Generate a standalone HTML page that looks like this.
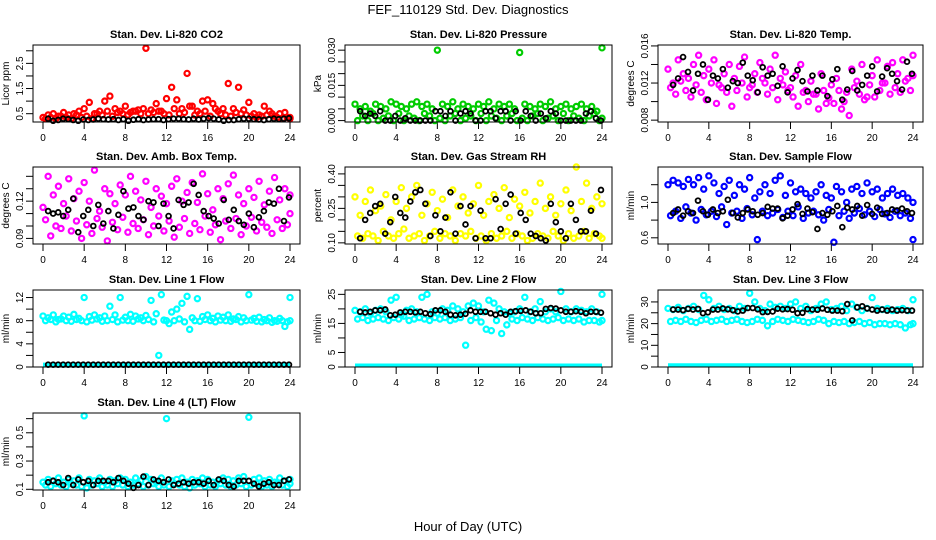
<!DOCTYPE html>
<html><head><meta charset="utf-8"><style>
body{margin:0;background:#fff;}
svg{display:block;font-family:"Liberation Sans",Arial,sans-serif;}
</style></head><body>
<svg id="chart" width="936" height="540" viewBox="0 0 936 540">
<rect width="936" height="540" fill="#fff"/>
<text x="468" y="14" text-anchor="middle" font-size="13">FEF_110129  Std. Dev. Diagnostics</text>
<text x="468" y="531" text-anchor="middle" font-size="13">Hour of Day (UTC)</text>
</svg>
<script>
const xTicks=[0,4,8,12,16,20,24];
const titles=["Stan. Dev. Li-820 CO2","Stan. Dev. Li-820 Pressure","Stan. Dev. Li-820 Temp.","Stan. Dev. Amb. Box Temp.","Stan. Dev. Gas Stream RH","Stan. Dev. Sample Flow","Stan. Dev. Line 1 Flow","Stan. Dev. Line 2 Flow","Stan. Dev. Line 3 Flow","Stan. Dev. Line 4 (LT) Flow"];
const yTitles=["Licor ppm","kPa","degrees C","degrees C","percent","ml/min","ml/min","ml/min","ml/min","ml/min"];
const yTicks=[[0.5,1,1.5,2,2.5,3],[0,0.005,0.01,0.015,0.02,0.025,0.03],[0.008,0.01,0.012,0.014,0.016],[0.09,0.1,0.11,0.12,0.13,0.14],[0.1,0.15,0.2,0.25,0.3,0.35,0.4],[0.6,0.8,1.0,1.2],[0,2,4,6,8,10,12],[0,5,10,15,20,25],[0,5,10,15,20,25,30],[0.1,0.2,0.3,0.4,0.5,0.6]];
const yLabels=[["0.5","","1.5","","2.5",""],["0.000","","","0.015","","","0.030"],["0.008","","0.012","","0.016"],["0.09","","","0.12","",""],["0.10","","","0.25","","","0.40"],["0.6","","1.0",""],["0","","4","","8","","12"],["0","5","","15","","25"],["0","","10","","20","","30"],["0.1","","0.3","","0.5",""]];
const yRanges=[[0.17,3.23],[-0.0006,0.0322],[0.0078,0.0161],[0.0855,0.1475],[0.095,0.43],[0.53,1.4],[0,13.3],[0,26.5],[0,35.5],[0.095,0.64]];
const colors=["#ff0000","#00cc00","#ff00ff","#ff00ff","#ffff00","#0000ff","#00ffff","#00ffff","#00ffff","#00ffff"];
const seriesA=[
[0.35,0.45,0.5,0.4,0.55,0.45,0.5,0.6,0.7,0.95,0.5,0.6,1.0,1.2,0.7,0.6,0.8,0.55,0.6,0.5,3.1,0.65,0.9,0.6,1.1,1.55,1.05,0.7,2.1,0.8,0.6,1.0,1.05,0.9,0.6,0.7,1.7,0.7,1.55,0.65,0.95,0.5,0.45,0.8,0.6,0.4,0.5,0.55,0.35],
[0.007,0.005,0.006,0.004,0.007,0.006,0.005,0.008,0.007,0.006,0.005,0.007,0.008,0.006,0.007,0.005,0.030,0.007,0.006,0.008,0.005,0.007,0.006,0.005,0.007,0.006,0.008,0.005,0.007,0.006,0.007,0.005,0.029,0.007,0.006,0.005,0.007,0.006,0.008,0.005,0.006,0.007,0.005,0.006,0.007,0.005,0.006,0.004,0.031],
[0.0135,0.012,0.0145,0.013,0.0125,0.014,0.015,0.0128,0.0135,0.0145,0.0118,0.013,0.014,0.0125,0.0138,0.0148,0.0115,0.013,0.0142,0.012,0.0135,0.015,0.0125,0.0132,0.0115,0.0128,0.014,0.0112,0.0122,0.0108,0.013,0.0098,0.0118,0.0125,0.0092,0.011,0.0135,0.0122,0.014,0.0105,0.0128,0.0145,0.012,0.0138,0.0142,0.013,0.0145,0.0125,0.015],
[0.115,0.14,0.125,0.132,0.118,0.138,0.122,0.128,0.135,0.12,0.145,0.112,0.13,0.126,0.118,0.133,0.125,0.14,0.128,0.121,0.136,0.115,0.13,0.124,0.118,0.132,0.138,0.12,0.127,0.135,0.119,0.142,0.126,0.113,0.13,0.122,0.134,0.141,0.125,0.118,0.13,0.123,0.136,0.117,0.128,0.139,0.121,0.13,0.125],
[0.30,0.22,0.28,0.33,0.24,0.26,0.31,0.20,0.28,0.34,0.25,0.30,0.35,0.22,0.27,0.32,0.24,0.29,0.21,0.33,0.26,0.30,0.23,0.27,0.35,0.22,0.28,0.31,0.25,0.34,0.21,0.29,0.26,0.32,0.23,0.28,0.36,0.25,0.30,0.22,0.27,0.33,0.24,0.43,0.28,0.36,0.25,0.30,0.27],
[1.2,1.25,1.22,1.18,1.26,1.2,1.28,1.15,1.3,1.22,1.1,1.18,1.25,1.08,1.2,1.15,1.28,1.05,1.12,1.2,1.1,1.25,1.3,1.08,1.22,1.12,1.15,1.1,1.05,1.12,1.2,1.08,1.05,1.18,1.12,1.0,1.15,1.18,1.1,1.22,1.12,1.15,1.05,1.1,1.15,1.08,1.1,1.05,1.0],
[8.8,8.5,9.0,8.2,8.8,8.6,9.1,8.4,12.0,8.7,9.0,8.5,8.8,10.5,9.0,12.0,8.6,9.1,8.8,8.5,8.9,11.5,9.2,12.5,8.0,9.5,10.0,11.0,12.2,8.5,11.8,8.7,9.0,8.4,8.8,8.6,9.0,8.3,8.7,8.5,12.5,8.4,8.6,8.2,8.5,8.0,8.4,7.0,12.0],
[19.5,19,20,18.5,19.5,20,19,23,24,18,19.5,20,19,24,25,19,18.5,20,19.5,21,20,19,21,22,21,19,23,22,20,19,18.5,19,20,24,19,20,22.5,19,20,19,26,20,19,20,19.5,19,20,19,25],
[27,26.5,27.5,26,27,28,26.5,33,31,27,28,26.5,27,26,28,27,34,30,27,26,29,27.5,28,27,29,30,27,28,26,27,29,30,26.5,27,28,26,29,27.5,26,27,32,27,26.5,27,26,26.5,27,26,31],
[0.15,0.17,0.16,0.18,0.15,0.17,0.16,0.18,0.62,0.17,0.16,0.18,0.15,0.17,0.16,0.18,0.17,0.15,0.18,0.16,0.19,0.17,0.15,0.18,0.60,0.16,0.17,0.18,0.15,0.17,0.16,0.18,0.17,0.15,0.16,0.18,0.17,0.16,0.18,0.19,0.61,0.17,0.18,0.16,0.17,0.15,0.18,0.16,0.17]];
const seriesB=[
[0.3,0.35,0.3,0.4,0.35,0.3,0.45,0.35,0.4,0.3,0.5,0.45,0.6,0.4,0.55,0.5,0.45,0.6,0.65,0.7,0.5,0.55,0.6,0.5,0.45,0.7,0.5,0.55,0.8,0.45,0.5,0.6,0.4,0.7,0.5,0.45,0.4,0.55,0.5,0.45,0.4,0.35,0.4,0.45,0.5,0.35,0.3,0.35,0.3],
[0,0.002,0,0.003,0,0.001,0.002,0,0.003,0,0.002,0.001,0,0.003,0.002,0,0.001,0,0.002,0.003,0,0.001,0.002,0,0.003,0,0.002,0.001,0,0.002,0.003,0,0.001,0,0.002,0.003,0,0.001,0.002,0,0.003,0,0.002,0.001,0,0.002,0.003,0,0.001],
[0.0115,0.0108,0.0122,0.0112,0.0105,0.0118,0.011,0.0102,0.012,0.0098,0.0115,0.011,0.0095,0.0112,0.012,0.0105,0.0118,0.011,0.0125,0.0108,0.0115,0.0102,0.0118,0.0112,0.0105,0.0095,0.011,0.01,0.0108,0.0092,0.0112,0.0104,0.0098,0.0112,0.01,0.0085,0.0115,0.0108,0.0102,0.0118,0.0105,0.0112,0.012,0.0108,0.0115,0.011,0.0122,0.0112,0.0128],
[0.105,0.092,0.1,0.098,0.108,0.096,0.104,0.09,0.101,0.094,0.106,0.099,0.088,0.103,0.097,0.107,0.095,0.102,0.098,0.105,0.093,0.1,0.108,0.096,0.104,0.091,0.099,0.106,0.094,0.102,0.097,0.108,0.095,0.101,0.089,0.104,0.098,0.106,0.093,0.1,0.107,0.096,0.103,0.099,0.094,0.105,0.098,0.101,0.11],
[0.13,0.12,0.14,0.13,0.11,0.15,0.13,0.12,0.14,0.16,0.12,0.13,0.14,0.11,0.13,0.15,0.12,0.14,0.13,0.11,0.14,0.13,0.15,0.12,0.13,0.11,0.14,0.12,0.13,0.15,0.12,0.14,0.13,0.11,0.12,0.14,0.13,0.12,0.15,0.13,0.11,0.14,0.12,0.13,0.15,0.12,0.14,0.13,0.12],
[0.85,0.9,0.82,0.95,0.88,0.8,0.92,0.86,0.9,0.84,0.95,0.75,0.88,0.9,0.82,0.93,0.86,0.58,0.9,0.85,0.88,0.92,0.83,0.9,0.85,0.95,0.82,0.88,0.9,0.86,0.8,0.92,0.55,0.85,0.9,0.82,0.88,0.93,0.86,0.9,0.84,0.92,0.87,0.83,0.9,0.85,0.88,0.82,0.58],
[8.0,8.2,7.8,8.3,8.0,7.9,8.2,8.0,7.8,8.1,8.3,7.9,8.0,8.2,7.8,8.1,8.0,7.9,8.3,8.0,8.2,7.8,2.0,8.1,7.5,8.0,8.3,7.8,6.5,8.0,7.9,8.2,8.0,7.8,8.1,8.0,7.9,8.2,7.8,8.0,8.1,7.9,7.8,8.0,7.7,7.9,8.0,7.8,8.0],
[16.5,17,16,16.5,17,16.5,16,17,16.5,17.5,16,16.5,17,16.5,16,17,16.5,17,16,16.5,17,7.5,16,17,15.5,13,12.5,16,11.5,14.5,16.5,16,17,16.5,16,17,16.5,16,16.5,17,16,16.5,16,16.5,15.5,16,16,15.5,16],
[21,21.5,21,22,21,20.5,21.5,22,21,21.5,22,21,21.5,22,21,20.5,21,22,21.5,19,21,22,21.5,21,22,21.5,21,20.5,21,22,21.5,20,21,20.5,21,20,20.5,21,20,20.5,19.5,20,20,19.5,20,19.5,18,19.5,20],
[0.13,0.12,0.14,0.13,0.12,0.14,0.13,0.12,0.11,0.13,0.14,0.12,0.13,0.12,0.14,0.13,0.12,0.13,0.14,0.12,0.13,0.14,0.12,0.13,0.12,0.14,0.13,0.12,0.11,0.13,0.14,0.12,0.13,0.12,0.14,0.13,0.12,0.13,0.14,0.12,0.13,0.14,0.12,0.13,0.12,0.14,0.13,0.12,0.14]];
const lowBand=[null,null,null,null,null,null,0.4,0.5,0.8,null];
const seriesBlack=[
[0.3,0.22,0.25,0.3,0.28,0.25,0.22,0.27,0.25,0.27,0.3,0.28,0.27,0.28,0.25,0.28,0.22,0.26,0.28,0.25,0.27,0.28,0.28,0.25,0.28,0.3,0.3,0.28,0.27,0.3,0.27,0.3,0.32,0.3,0.27,0.22,0.25,0.25,0.28,0.3,0.3,0.28,0.27,0.25,0.28,0.3,0.28,0.3,0.32],
[0.004,0.002,0.003,0.002,0.004,0,0,0.002,0,0.001,0,0,0,0,0,0.004,0.004,0.002,0.004,0,0.003,0.004,0.003,0,0,0.004,0.004,0.001,0.004,0.004,0,0.004,0,0.004,0.002,0,0.003,0.001,0.004,0.003,0,0,0,0,0,0.003,0.004,0.001,0],
[0.0118,0.0125,0.0148,0.0132,0.0112,0.013,0.014,0.0102,0.0128,0.0125,0.0135,0.0115,0.0122,0.012,0.0142,0.0128,0.0123,0.011,0.0137,0.0128,0.013,0.0117,0.0138,0.011,0.0125,0.0134,0.0122,0.0111,0.0128,0.0112,0.0128,0.0106,0.0124,0.0135,0.0102,0.0113,0.0133,0.0112,0.0118,0.0128,0.0138,0.0111,0.0127,0.0136,0.013,0.0122,0.0113,0.0143,0.013],
[0.112,0.11,0.111,0.108,0.113,0.122,0.095,0.108,0.113,0.1,0.117,0.102,0.112,0.098,0.109,0.128,0.114,0.115,0.108,0.105,0.12,0.119,0.1,0.118,0.108,0.098,0.121,0.117,0.119,0.134,0.125,0.112,0.108,0.106,0.102,0.121,0.105,0.113,0.104,0.101,0.11,0.099,0.107,0.112,0.119,0.118,0.13,0.104,0.123],
[0.12,0.2,0.23,0.26,0.27,0.14,0.19,0.3,0.23,0.21,0.28,0.32,0.33,0.27,0.13,0.22,0.15,0.21,0.32,0.14,0.26,0.18,0.26,0.12,0.24,0.12,0.12,0.29,0.16,0.27,0.31,0.14,0.23,0.2,0.14,0.13,0.12,0.11,0.27,0.19,0.15,0.12,0.27,0.2,0.15,0.15,0.24,0.14,0.33],
[0.88,0.92,0.85,0.9,0.88,1.02,0.9,0.86,0.92,0.88,0.9,1.03,0.88,0.83,0.88,0.92,0.9,0.86,0.88,0.95,0.93,0.93,0.82,0.85,0.92,0.98,0.87,0.93,0.89,0.7,0.88,0.86,0.9,0.96,0.72,0.94,0.92,0.96,0.85,0.97,0.87,0.94,0.87,0.88,0.92,0.91,0.93,0.9,0.88],
[0.4,0.4,0.4,0.4,0.4,0.4,0.4,0.4,0.4,0.4,0.4,0.4,0.4,0.4,0.4,0.4,0.4,0.4,0.4,0.4,0.4,0.4,0.4,0.4,0.4,0.4,0.4,0.4,0.4,0.4,0.4,0.4,0.4,0.4,0.4,0.4,0.4,0.4,0.4,0.4,0.4,0.4,0.4,0.4,0.4,0.4,0.4,0.4,0.4],
[19,18.8,19,19.5,19.5,19.8,17.8,18,18.8,19,19,18.8,19,18.5,18.2,19.5,19.5,19,18,17.8,18,18.3,19.5,19,19,19,18.5,18,18.5,18,19,19.2,19.3,19.5,19,18.5,18.5,20,20.3,20.1,19.5,19,19,19.2,19,18.5,19,19,18.7],
[26.5,26.5,26.2,26.8,26.5,26.8,24.8,25.2,26.5,26.5,27,26.6,26.2,25.6,26,27.2,27.2,26.6,25.3,25.4,25.6,26.9,26.6,26.7,26.4,24.8,25,26.7,26.5,26.4,27,26.4,26,26,25.7,29,21.5,27.5,28,27,26.5,26,26.5,26,26.5,26,26.2,26,26],
[0.15,0.16,0.15,0.13,0.18,0.13,0.17,0.15,0.16,0.13,0.16,0.16,0.16,0.15,0.18,0.16,0.14,0.11,0.13,0.19,0.13,0.17,0.16,0.15,0.17,0.13,0.14,0.15,0.14,0.15,0.15,0.14,0.16,0.13,0.17,0.16,0.13,0.12,0.16,0.16,0.16,0.14,0.12,0.14,0.15,0.13,0.13,0.16,0.17]];

const NS="http://www.w3.org/2000/svg";
const svg=document.getElementById('chart');
function mk(tag,attrs,parent){const e=document.createElementNS(NS,tag);for(const k in attrs)e.setAttribute(k,attrs[k]);(parent||svg).appendChild(e);return e;}
const colLeft=[33,345,658],colRight=[300,612,923],rowTop=[45,167,290,413],PH=77;
for(let p=0;p<10;p++){
  const c=p%3,r=Math.floor(p/3);
  const L=colLeft[c],R=colRight[c],T=rowTop[r],B=T+PH;
  const x0=L+10,x1=R-10;
  const sx=h=>x0+(x1-x0)*h/24;
  const [ymin,ymax]=yRanges[p];
  const sy=v=>B-(v-ymin)/(ymax-ymin)*(B-T);
  const g=mk('g',{});
  
  
  const t=mk('text',{x:(L+R)/2,y:T-7,'text-anchor':'middle','font-size':11,'font-weight':'bold'},g);t.textContent=titles[p];
  
  
  const yt=mk('text',{transform:`translate(${L-24},${(T+B)/2}) rotate(-90)`,'text-anchor':'middle','font-size':10},g);yt.textContent=yTitles[p];
  
  
  const xa=mk('g',{},g);
  
  
  mk('line',{x1:sx(0),x2:sx(24),y1:B,y2:B,stroke:'#000'},xa);
  xTicks.forEach(h=>{mk('line',{x1:sx(h),x2:sx(h),y1:B,y2:B+7,stroke:'#000'},xa);
    const tl=mk('text',{x:sx(h),y:B+19,'text-anchor':'middle','font-size':10},xa);tl.textContent=h;});
  const ya=mk('g',{},g);
  
  
  const yt0=yTicks[p];
  mk('line',{x1:L,x2:L,y1:sy(yt0[0]),y2:sy(yt0[yt0.length-1]),stroke:'#000'},ya);
  yt0.forEach((v,i)=>{const y=sy(v);mk('line',{x1:L-7,x2:L,y1:y,y2:y,stroke:'#000'},ya);
    if(yLabels[p][i]){const tl=mk('text',{transform:`translate(${L-10},${y}) rotate(-90)`,'text-anchor':'middle','font-size':10},ya);tl.textContent=yLabels[p][i];}});
  const pts=mk('g',{fill:'none','stroke-width':2.2},g);
  
  
  const drawSet=(arr,col,off)=>arr.forEach((v,i)=>{const h=Math.min(24,i*24/(arr.length-1)+off);
    mk('circle',{cx:sx(h),cy:sy(v),r:2.6,stroke:col},pts);});
  if(lowBand[p]!==null){const y=sy(lowBand[p]);mk('line',{x1:sx(0),x2:sx(24),y1:y,y2:y,stroke:colors[p],'stroke-width':4},pts);}
  drawSet(seriesB[p],colors[p],0.25);
  drawSet(seriesA[p],colors[p],0);
  seriesBlack[p].forEach((v,i)=>{const h=0.5+i*23.4/(seriesBlack[p].length-1);
    mk('circle',{cx:sx(h),cy:sy(v),r:2.4,stroke:'#000','stroke-width':1.8},pts);});
  mk('rect',{x:L,y:T,width:R-L,height:B-T,fill:'none',stroke:'#000'},g);
}
</script>
</body></html>
